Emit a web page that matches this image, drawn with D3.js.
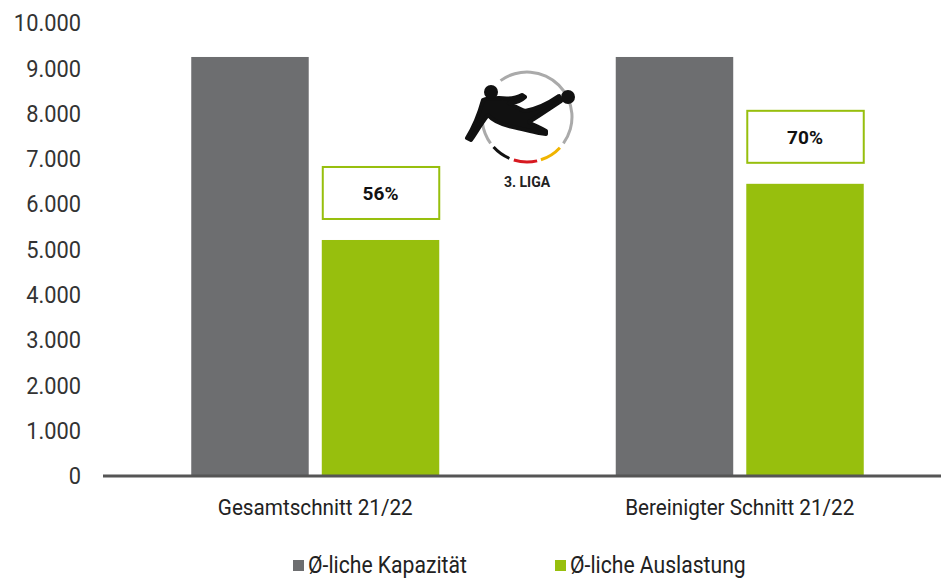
<!DOCTYPE html>
<meta charset="utf-8">
<style>
  body { margin: 0; background: #fff; }
  text { font-family: Roboto, "Noto Sans", sans-serif; }
</style>
<body>
<script src="https://cdn.jsdelivr.net/npm/d3@7"></script>
<script>

// data
var categories = ["Gesamtschnitt 21/22", "Bereinigter Schnitt 21/22"];
var series = ["Ø-liche Kapazität", "Ø-liche Auslastung"];
var kapazitaet = [9250, 9250];
var auslastung = [5210, 6450];
var quoteLabels = ["56%", "70%"];
var yTicks = [0, 1000, 2000, 3000, 4000, 5000, 6000, 7000, 8000, 9000, 10000];

var colors = ["#6d6e70", "#97bf0d"];
var width = 941, height = 578;

var svg = d3.select("body").append("svg")
    .attr("width", width)
    .attr("height", height);

var y = d3.scaleLinear().domain([0, 10000]).range([476, 23]);
var x0 = d3.scaleBand().domain(categories).range([103, 952]);
var x1 = d3.scaleBand().domain(series)
    .range([(x0.bandwidth() - 248) / 2, (x0.bandwidth() + 248) / 2])
    .paddingInner(0.1);

// the original font is a condensed one, so squeeze Roboto a bit
function squeezed(sel, x, y, sx) {
  return sel.append("g")
      .attr("transform", "translate(" + x + "," + y + ") scale(" + sx + ",1)")
    .append("text");
}

// y tick labels (german number format)
var fmt = d3.formatLocale({decimal: ",", thousands: ".", grouping: [3], currency: ["", "€"]}).format(",");
var yg = svg.append("g");
yTicks.forEach(function(d) {
  squeezed(yg, 81, y(d), 0.95)
      .attr("dy", "0.36em")
      .attr("text-anchor", "end")
      .attr("fill", "#333")
      .style("font-size", "23px")
      .text(fmt(d));
});

// bars
var groups = svg.append("g").selectAll("g")
  .data(categories)
  .enter().append("g")
    .attr("transform", function(d) { return "translate(" + x0(d) + ",0)"; });

groups.append("rect")
    .attr("x", x1(series[0]))
    .attr("width", x1.bandwidth())
    .attr("y", function(d, i) { return y(kapazitaet[i]); })
    .attr("height", function(d, i) { return y(0) - y(kapazitaet[i]); })
    .attr("fill", colors[0]);

groups.append("rect")
    .attr("x", x1(series[1]))
    .attr("width", x1.bandwidth())
    .attr("y", function(d, i) { return y(auslastung[i]); })
    .attr("height", function(d, i) { return y(0) - y(auslastung[i]); })
    .attr("fill", colors[1]);

// percentage boxes above green bars
var boxH = 52, boxGap = 21;
groups.append("rect")
    .attr("x", x1(series[1]) + 1)
    .attr("width", x1.bandwidth() - 1)
    .attr("y", function(d, i) { return y(auslastung[i]) - boxGap - boxH; })
    .attr("height", boxH)
    .attr("fill", "#fff")
    .attr("stroke", colors[1])
    .attr("stroke-width", 2);

groups.append("text")
    .attr("x", x1(series[1]) + x1.bandwidth() / 2)
    .attr("y", function(d, i) { return y(auslastung[i]) - boxGap - boxH / 2; })
    .attr("dy", "0.36em")
    .attr("text-anchor", "middle")
    .attr("fill", "#111")
    .style("font-size", "19px")
    .style("font-weight", "bold")
    .text(function(d, i) { return quoteLabels[i]; });

// x axis line
svg.append("line")
    .attr("x1", 103).attr("x2", width)
    .attr("y1", y(0)).attr("y2", y(0))
    .attr("stroke", "#555")
    .attr("stroke-width", 3);

// category labels
var cg = svg.append("g");
categories.forEach(function(d) {
  squeezed(cg, x0(d) + x0.bandwidth() / 2, 515, 0.94)
      .attr("text-anchor", "middle")
      .attr("fill", "#222")
      .style("font-size", "22px")
      .text(d);
});

// legend
var legendX = [293, 555];
var lg = svg.append("g");
series.forEach(function(d, i) {
  lg.append("rect")
      .attr("x", legendX[i]).attr("y", 560)
      .attr("width", 11).attr("height", 11)
      .attr("fill", colors[i]);
  squeezed(lg, legendX[i] + 15, 573, 0.92)
      .attr("fill", "#222")
      .style("font-size", "23px")
      .text(d);
});

// 3. Liga logo (rough redraw)
var logo = svg.append("g").attr("transform", "translate(527,117)");
var arc = d3.arc().innerRadius(43.5).outerRadius(46.5);
var deg = Math.PI / 180;
var ring = [
  {s: -36, e: 126, c: "#aaa"},
  {s: 133, e: 162, c: "#f0b400"},
  {s: 167, e: 197, c: "#d71920"},
  {s: 203, e: 228, c: "#111"},
  {s: 234, e: 262, c: "#aaa"},
  {s: 267, e: 290, c: "#aaa"}
];
logo.selectAll("path.ring")
  .data(ring)
  .enter().append("path")
    .attr("class", "ring")
    .attr("d", function(d) { return arc({startAngle: d.s * deg, endAngle: d.e * deg}); })
    .attr("fill", function(d) { return d.c; });

// player silhouette
logo.append("path")
    .attr("d", "M-44,-17 C-47,-6 -52,8 -60,21 L-56,23 C-50,14 -44,4 -39,-2 " +
               "C-34,4 -24,8 -14,10 C-6,12 4,14 12,16 L19,17 L19,14 C12,10 6,8 2,5 " +
               "C10,0 22,-8 34,-16 L32,-21 C22,-14 10,-8 -2,-6 C-8,-8 -14,-12 -18,-14 " +
               "C-12,-14 -6,-16 -2,-20 L-5,-22 C-12,-18 -20,-18 -28,-19 C-33,-19 -40,-19 -44,-17 Z")
    .attr("fill", "#111")
    .attr("stroke", "#111")
    .attr("stroke-width", 4)
    .attr("stroke-linejoin", "round");
logo.append("circle")
    .attr("cx", -36).attr("cy", -25).attr("r", 7)
    .attr("fill", "#111");
logo.append("circle")
    .attr("cx", 41).attr("cy", -20).attr("r", 7)
    .attr("fill", "#111");

logo.append("text")
    .attr("x", 0).attr("y", 70)
    .attr("text-anchor", "middle")
    .attr("fill", "#222")
    .style("font-size", "14px")
    .style("font-weight", "bold")
    .text("3. LIGA");

</script>
</body>
